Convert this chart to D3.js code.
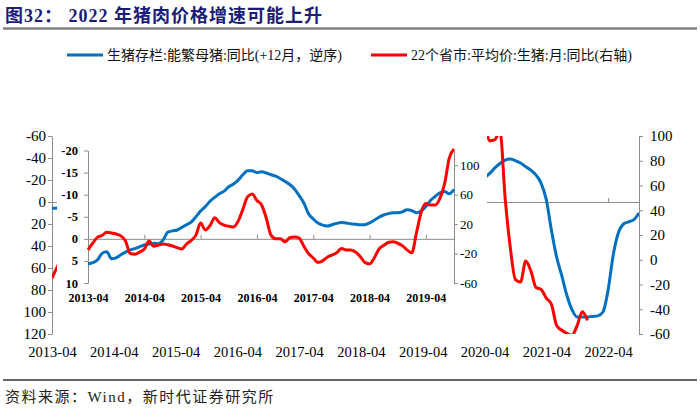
<!DOCTYPE html>
<html>
<head>
<meta charset="utf-8">
<script src="https://cdn.jsdelivr.net/npm/d3@7"></script>
<style>
  body { margin: 0; background: #fff; }
  svg { display: block; font-family: "Liberation Serif", "Noto Sans CJK SC", serif; }
</style>
</head>
<body>
<svg id="chart" width="700" height="418"></svg>
<script>
// monthly series, first value = 2013-04
const startMonth = "2013-04";

// 生猪存栏:能繁母猪:同比 (+12月, 逆序) — left axes
const sowYoY = [
  5.7, 5.4, 4.8, 3.3, 2.9, 4.5, 4.3, 3.6, 3.0, 2.5, 2.2, 1.8,
  1.4, 1.2, 1.0, 1.1, 0.3, -1.5, -1.8, -2.0, -2.6, -3.2, -3.8, -5.0,
  -6.3, -7.3, -8.5, -9.4, -10.2, -10.8, -11.8, -12.4, -13.3, -14.5, -15.4, -15.4,
  -15.0, -15.2, -14.9, -14.5, -14.2, -13.6, -13.0, -12.3, -11.3, -9.8, -8.1, -5.7,
  -4.5, -3.6, -3.1, -2.9, -3.2, -3.5, -3.7, -3.6, -3.4, -3.3, -3.2, -3.2,
  -3.6, -4.2, -4.9, -5.4, -5.7, -5.9, -5.9, -6.1, -6.6, -6.4, -5.9, -6.3,
  -7.3, -8.7, -9.6, -10.4, -10.7, -10.2, -11.2, -12.5, -14, -16, -18, -20,
  -22, -26, -31, -35, -38, -39, -37.5, -35.5, -32, -29, -24.5, -17,
  -2, 26, 50, 67, 85, 98, 104.5, 104.5, 104.5, 104, 103.5, 100,
  80, 48, 28, 20, 18, 16, 10
];

// 22个省市:平均价:生猪:月:同比 — right axes
const priceYoY = [
  -15, -6, 2, 4.5, 9, 8, 6.5, 4, -3, -20, -21, -18,
  -14, -3, -10, -8.5, -7, -8, -9.8, -12, -13.8, -7, -2, 5,
  21.5, 12, 18, 28.6, 22, 18.5, 17, 16, 24, 40, 57, 61,
  52, 46, 28, 5, 0, 0, -4, 1.5, 2.5, 1, -10, -20,
  -26, -32, -30, -25, -22, -19, -13, -15, -15, -18, -24, -32,
  -34, -26, -14, -9, -5, -4, -6, -9.5, -15, -19, 8, 36,
  48, 46, 46, 55, 75, 110, 122, 140, 135, 125, 118, 120,
  110, 96, 97, 104, 50, 10, -16, -18, -1, -9, -22.4, -24,
  -31, -36, -53, -57, -59.5, -61, -53, -42, -49
];

const outerEnd = "2022-10";
const insetEnd = "2019-10";

const outerXTicks = ["2013-04", "2014-04", "2015-04", "2016-04", "2017-04",
  "2018-04", "2019-04", "2020-04", "2021-04", "2022-04"];
const insetXTicks = ["2013-04", "2014-04", "2015-04", "2016-04", "2017-04",
  "2018-04", "2019-04"];
const outerLeftTicks = [-60, -40, -20, 0, 20, 40, 60, 80, 100, 120];
const outerRightTicks = [-60, -40, -20, 0, 20, 40, 60, 80, 100];
const insetLeftTicks = [-20, -15, -10, -5, 0, 5, 10];
const insetRightTicks = [-60, -20, 20, 60, 100];

const BLUE = "#0070C0";
const RED = "#FF0000";
const GREY = "#8c8c8c";

const monthIndex = s => {
  const [y, m] = s.split("-").map(Number);
  const [y0, m0] = startMonth.split("-").map(Number);
  return (y - y0) * 12 + (m - m0);
};

// plain hyphen for negatives, as in the source chart
const num = d => String(d);

const svg = d3.select("#chart");

// title
svg.append("text")
  .attr("x", 5).attr("y", 22)
  .attr("font-size", 18).attr("font-weight", "bold")
  .attr("letter-spacing", 1)
  .attr("fill", "#1b1b78")
  .text("图32： 2022 年猪肉价格增速可能上升");
svg.append("line")
  .attr("x1", 3).attr("x2", 697).attr("y1", 28.5).attr("y2", 28.5)
  .attr("stroke", "#808080").attr("stroke-width", 2.5);

// legend
const legend = [
  { x: 67, color: BLUE, label: "生猪存栏:能繁母猪:同比(+12月，逆序)" },
  { x: 371, color: RED, label: "22个省市:平均价:生猪:月:同比(右轴)" }
];
const lg = svg.append("g").selectAll("g").data(legend).join("g");
lg.append("line")
  .attr("x1", d => d.x).attr("x2", d => d.x + 36)
  .attr("y1", 55).attr("y2", 55)
  .attr("stroke", d => d.color).attr("stroke-width", 3);
lg.append("text")
  .attr("x", d => d.x + 40).attr("y", 55)
  .attr("dy", "0.35em")
  .attr("font-size", 14).attr("fill", "#111")
  .text(d => d.label);

const styleAxis = (g, fontSize, weight) => {
  g.selectAll(".domain").attr("stroke", GREY);
  g.selectAll(".tick line").attr("stroke", GREY);
  g.selectAll("text")
    .attr("fill", "#000")
    .attr("font-size", fontSize)
    .attr("font-weight", weight || "normal")
    .attr("font-family", "Liberation Serif, serif");
};

const drawLine = (parent, data, x, y, color, clipId) => {
  const line = d3.line()
    .x((d, i) => x(i))
    .y(d => y(d))
    .curve(d3.curveMonotoneX);
  const p = parent.append("path")
    .datum(data)
    .attr("fill", "none")
    .attr("stroke", color)
    .attr("stroke-width", 3)
    .attr("stroke-linejoin", "round")
    .attr("d", line);
  if (clipId) p.attr("clip-path", `url(#${clipId})`);
};

// ---------- outer chart (full period) ----------
const ox = d3.scaleLinear().domain([0, monthIndex(outerEnd)]).range([52, 639]);
const oyL = d3.scaleLinear().domain([-60, 120]).range([136, 334]);
const oyR = d3.scaleLinear().domain([-60, 100]).range([334, 136]);

svg.append("clipPath").attr("id", "outer-clip")
  .append("rect").attr("x", 52).attr("y", 136).attr("width", 587).attr("height", 198);

const outer = svg.append("g");

outer.append("g")
  .attr("transform", `translate(0,${oyL(0)})`)
  .call(d3.axisTop(ox).tickValues(outerXTicks.map(monthIndex)).tickSize(4).tickFormat("").tickSizeOuter(0))
  .call(g => styleAxis(g, 14.5));

outer.append("g")
  .attr("transform", "translate(0,344)")
  .call(d3.axisBottom(ox).tickValues(outerXTicks.map(monthIndex))
    .tickFormat((d, i) => outerXTicks[i]).tickSize(0).tickPadding(3))
  .call(g => g.select(".domain").remove())
  .call(g => styleAxis(g, 14.5));

outer.append("g")
  .attr("transform", "translate(52,0)")
  .call(d3.axisLeft(oyL).tickValues(outerLeftTicks).tickFormat(num)
    .tickSize(4).tickPadding(2).tickSizeOuter(0))
  .call(g => styleAxis(g, 15));

outer.append("g")
  .attr("transform", "translate(639,0)")
  .call(d3.axisRight(oyR).tickValues(outerRightTicks).tickFormat(num)
    .tickSize(4).tickPadding(7).tickSizeOuter(0))
  .call(g => styleAxis(g, 15));

drawLine(outer, sowYoY, ox, oyL, BLUE, "outer-clip");
drawLine(outer, priceYoY, ox, oyR, RED, "outer-clip");

// ---------- inset chart (2013-04 to 2019-10) ----------
svg.append("rect")
  .attr("x", 57).attr("y", 125).attr("width", 430).attr("height", 190)
  .attr("fill", "#fff");

const n = monthIndex(insetEnd) + 1;
const ix = d3.scaleLinear().domain([0, n - 1]).range([88, 454]);
const iyL = d3.scaleLinear().domain([-20, 10]).range([150.5, 283]);
const iyR = d3.scaleLinear().domain([-60, 120]).range([283, 150.5]);

const inset = svg.append("g");

inset.append("g")
  .attr("transform", `translate(0,${iyL(0)})`)
  .call(d3.axisTop(ix).tickValues(insetXTicks.map(monthIndex)).tickSize(4).tickFormat("").tickSizeOuter(0))
  .call(g => styleAxis(g, 12));

inset.append("g")
  .attr("transform", "translate(0,290)")
  .call(d3.axisBottom(ix).tickValues(insetXTicks.map(monthIndex))
    .tickFormat((d, i) => insetXTicks[i]).tickSize(0).tickPadding(3.5))
  .call(g => g.select(".domain").remove())
  .call(g => styleAxis(g, 12, "bold"));

inset.append("g")
  .attr("transform", "translate(88,0)")
  .call(d3.axisLeft(iyL).tickValues(insetLeftTicks).tickFormat(num)
    .tickSize(4).tickPadding(6).tickSizeOuter(0))
  .call(g => styleAxis(g, 12.5, "bold"));

inset.append("g")
  .attr("transform", "translate(454,0)")
  .call(d3.axisRight(iyR).tickValues(insetRightTicks).tickFormat(num)
    .tickSize(4).tickPadding(2).tickSizeOuter(0))
  .call(g => styleAxis(g, 13));

drawLine(inset, sowYoY.slice(0, n), ix, iyL, BLUE);
drawLine(inset, priceYoY.slice(0, n), ix, iyR, RED);

// footer
svg.append("line")
  .attr("x1", 3).attr("x2", 697).attr("y1", 380).attr("y2", 380)
  .attr("stroke", "#333").attr("stroke-width", 1.5);
svg.append("text")
  .attr("x", 5).attr("y", 402)
  .attr("font-size", 15).attr("letter-spacing", 1.5).attr("fill", "#222")
  .text("资料来源：Wind，新时代证券研究所");
</script>
</body>
</html>
